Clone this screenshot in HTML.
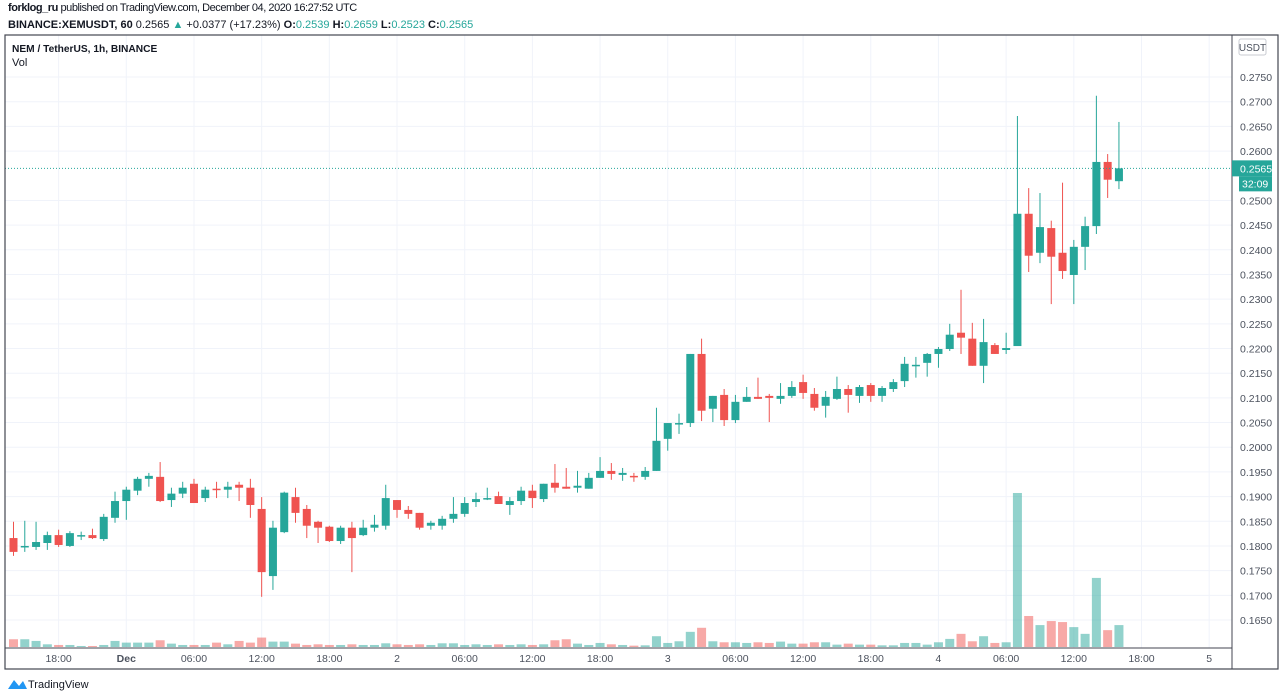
<!DOCTYPE html>
<html><head><meta charset="utf-8">
<style>
body{margin:0;background:#fff;width:1280px;height:699px;overflow:hidden;font-family:"Liberation Sans",sans-serif;}
.hdr{position:absolute;left:8px;font-size:11px;color:#131722;white-space:nowrap}
svg text{font-family:"Liberation Sans",sans-serif}
</style></head><body>
<div class="hdr" style="top:2px;letter-spacing:-0.45px"><b>forklog_ru</b> published on TradingView.com, December 04, 2020 16:27:52 UTC</div>
<div class="hdr" style="top:19px"><b>BINANCE:XEMUSDT, 60</b> 0.2565 <span style="color:#26a69a">▲</span> +0.0377 (+17.23%) <b>O:</b><span style="color:#26a69a">0.2539</span> <b>H:</b><span style="color:#26a69a">0.2659</span> <b>L:</b><span style="color:#26a69a">0.2523</span> <b>C:</b><span style="color:#26a69a">0.2565</span></div>
<svg id="chart" width="1280" height="699" style="position:absolute;left:0;top:0"></svg>
<script>
const opens=[0.1816,0.1798,0.1798,0.1806,0.1822,0.1800,0.1820,0.1822,0.1814,0.1857,0.1891,0.1912,0.1936,0.1940,0.1893,0.1906,0.1926,0.1897,0.1916,0.1914,0.1924,0.1918,0.1875,0.1739,0.1828,0.1899,0.1875,0.1849,0.1839,0.1810,0.1837,0.1822,0.1837,0.1841,0.1893,0.1873,0.1867,0.1841,0.1841,0.1855,0.1865,0.1889,0.1895,0.1901,0.1883,0.1891,0.1912,0.1895,0.1928,0.1920,0.1918,0.1916,0.1938,0.1952,0.1944,0.1942,0.1940,0.1952,0.2017,0.2047,0.2049,0.2189,0.2078,0.2106,0.2055,0.2092,0.2102,0.2104,0.2098,0.2104,0.2132,0.2108,0.2084,0.2098,0.2118,0.2104,0.2126,0.2104,0.2118,0.2134,0.2165,0.2171,0.2189,0.2199,0.2232,0.2220,0.2165,0.2207,0.2197,0.2205,0.2473,0.2394,0.2444,0.2394,0.2349,0.2406,0.2448,0.2578,0.2539];
const highs=[0.1849,0.1851,0.1849,0.1829,0.1833,0.1830,0.1829,0.1835,0.1865,0.1910,0.1920,0.1940,0.1948,0.1970,0.1918,0.1930,0.1936,0.1920,0.1930,0.1930,0.1930,0.1936,0.1899,0.1851,0.1910,0.1918,0.1883,0.1851,0.1841,0.1841,0.1849,0.1853,0.1863,0.1924,0.1893,0.1881,0.1867,0.1851,0.1861,0.1899,0.1899,0.1908,0.1918,0.1910,0.1899,0.1920,0.1924,0.1926,0.1966,0.1958,0.1952,0.1948,0.1980,0.1968,0.1958,0.1948,0.1960,0.2080,0.2049,0.2068,0.2189,0.2220,0.2104,0.2118,0.2106,0.2122,0.2141,0.2108,0.2130,0.2134,0.2147,0.2120,0.2114,0.2143,0.2126,0.2126,0.2130,0.2124,0.2138,0.2183,0.2183,0.2191,0.2203,0.2250,0.2319,0.2252,0.2260,0.2211,0.2232,0.2671,0.2525,0.2515,0.2459,0.2536,0.2420,0.2467,0.2712,0.2594,0.2659];
const lows=[0.1780,0.1788,0.1792,0.1792,0.1798,0.1798,0.1812,0.1814,0.1810,0.1847,0.1853,0.1903,0.1920,0.1889,0.1879,0.1897,0.1887,0.1889,0.1897,0.1897,0.1891,0.1857,0.1697,0.1711,0.1826,0.1847,0.1816,0.1806,0.1808,0.1804,0.1747,0.1820,0.1829,0.1833,0.1857,0.1855,0.1833,0.1833,0.1833,0.1847,0.1859,0.1879,0.1893,0.1885,0.1863,0.1883,0.1877,0.1889,0.1908,0.1916,0.1908,0.1916,0.1938,0.1934,0.1932,0.1930,0.1934,0.1952,0.1993,0.2027,0.2041,0.2053,0.2051,0.2043,0.2049,0.2092,0.2098,0.2051,0.2088,0.2100,0.2098,0.2074,0.2060,0.2096,0.2070,0.2090,0.2092,0.2092,0.2112,0.2122,0.2141,0.2143,0.2161,0.2195,0.2189,0.2165,0.2130,0.2189,0.2189,0.2205,0.2355,0.2373,0.2290,0.2341,0.2290,0.2359,0.2432,0.2505,0.2523];
const closes=[0.1788,0.1800,0.1808,0.1822,0.1802,0.1826,0.1822,0.1816,0.1859,0.1891,0.1914,0.1936,0.1942,0.1891,0.1906,0.1918,0.1887,0.1914,0.1914,0.1920,0.1918,0.1883,0.1747,0.1837,0.1908,0.1867,0.1841,0.1837,0.1810,0.1837,0.1816,0.1837,0.1843,0.1897,0.1873,0.1865,0.1837,0.1847,0.1855,0.1865,0.1887,0.1895,0.1897,0.1885,0.1891,0.1912,0.1897,0.1926,0.1918,0.1916,0.1922,0.1938,0.1952,0.1946,0.1948,0.1940,0.1952,0.2013,0.2049,0.2049,0.2189,0.2074,0.2104,0.2055,0.2092,0.2102,0.2098,0.2100,0.2104,0.2122,0.2110,0.2080,0.2102,0.2118,0.2106,0.2122,0.2104,0.2120,0.2132,0.2169,0.2167,0.2189,0.2199,0.2228,0.2222,0.2165,0.2213,0.2189,0.2201,0.2473,0.2388,0.2446,0.2386,0.2357,0.2406,0.2448,0.2578,0.2542,0.2565];
const volumes=[23,23,18,8,6,6,3,3,6,18,13,13,13,20,10,6,6,6,13,8,18,13,28,16,16,10,6,8,6,6,8,6,6,11,8,6,8,6,11,11,6,8,6,8,6,8,6,8,20,23,10,6,12,8,6,4,5,32,12,17,45,57,17,14,14,12,14,12,16,10,10,14,14,7,10,7,7,5,5,12,12,7,14,24,39,17,32,12,14,457,92,65,77,74,59,39,205,50,65];
const priceTicks=[0.165,0.17,0.175,0.18,0.185,0.19,0.195,0.2,0.205,0.21,0.215,0.22,0.225,0.23,0.235,0.24,0.245,0.25,0.26,0.265,0.27,0.275];
const timeLabels=["18:00","Dec","06:00","12:00","18:00","2","06:00","12:00","18:00","3","06:00","12:00","18:00","4","06:00","12:00","18:00","5"];
const timeLabelHours=[4,10,16,22,28,34,40,46,52,58,64,70,76,82,88,94,100,106];
const lastPrice=0.2565;

const NS="http://www.w3.org/2000/svg";
const svg=document.getElementById('chart');
function mk(tag,attrs,parent){const e=document.createElementNS(NS,tag);for(const k in attrs)e.setAttribute(k,attrs[k]);(parent||svg).appendChild(e);return e;}
const X0=13.5,DX=11.28;
function xOf(i){return X0+i*DX;}
function yOf(p){return 620-(p-0.165)/0.005*24.68;}
function vY(v){return 647-v*0.337;}
const L=5,R=1232,T=35,B=648;

priceTicks.forEach(p=>{const g=mk('line',{x1:L,x2:R,y1:yOf(p),y2:yOf(p),stroke:'#f0f3fa','stroke-width':1});

});
timeLabelHours.forEach(h=>{const g=mk('line',{x1:xOf(h),x2:xOf(h),y1:T,y2:B,stroke:'#f0f3fa','stroke-width':1});

});

volumes.forEach((v,i)=>{const up=closes[i]>=opens[i];
const r=mk('rect',{x:xOf(i)-4.5,y:vY(v),width:9,height:647-vY(v),fill:up?'rgba(38,166,154,0.5)':'rgba(239,83,80,0.5)'});

});

opens.forEach((o,i)=>{const c=closes[i],up=c>=o,col=up?'#26a69a':'#ef5350';
const g=mk('g',{});


mk('line',{x1:xOf(i),x2:xOf(i),y1:yOf(highs[i]),y2:yOf(lows[i]),stroke:col,'stroke-width':1},g);
const yt=yOf(Math.max(o,c)),yb=yOf(Math.min(o,c));
mk('rect',{x:xOf(i)-4,y:yt,width:8,height:Math.max(1.5,yb-yt),fill:col},g);});

const ly=yOf(lastPrice);
const pl=mk('line',{x1:L,x2:R,y1:ly,y2:ly,stroke:'#26a69a','stroke-width':1,'stroke-dasharray':'1 2'});



const fr=mk('rect',{x:L,y:T,width:1273,height:634,fill:'none',stroke:'#434651','stroke-width':1.2});


const ax=mk('line',{x1:R,x2:R,y1:T,y2:669,stroke:'#434651','stroke-width':1});


const tx=mk('line',{x1:L,x2:R,y1:B,y2:B,stroke:'#434651','stroke-width':1});



priceTicks.forEach(p=>{const t=mk('text',{x:1240,y:yOf(p)+4,'font-size':10.5,fill:'#4c525e'});t.textContent=p.toFixed(4);

});
timeLabels.forEach((s,k)=>{const t=mk('text',{x:xOf(timeLabelHours[k]),y:662,'font-size':10.5,fill:'#4c525e','text-anchor':'middle','font-weight':s==='Dec'?'bold':'normal'});t.textContent=s;

});

const lb=mk('rect',{x:1232,y:ly-8,width:40,height:16,fill:'#26a69a'});


const lt=mk('text',{x:1240,y:ly+4,'font-size':10.5,fill:'#fff'});lt.textContent=lastPrice.toFixed(4);


const cb=mk('rect',{x:1239,y:ly+8,width:33,height:15,fill:'#26a69a'});


const ct=mk('text',{x:1242,y:ly+19,'font-size':10.5,fill:'#fff'});ct.textContent='32:09';



const ub=mk('rect',{x:1239,y:39,width:27,height:16,rx:2,fill:'#fff',stroke:'#c8cbd2'});


const ut=mk('text',{x:1252.5,y:51,'font-size':10,fill:'#4c525e','text-anchor':'middle'});ut.textContent='USDT';



const t1=mk('text',{x:12,y:52,'font-size':10.2,'font-weight':'bold',fill:'#131722'});t1.textContent='NEM / TetherUS, 1h, BINANCE';


const t2=mk('text',{x:12,y:66,'font-size':11,fill:'#131722'});t2.textContent='Vol';



const lg=mk('path',{d:'M8 689 L14 680 L19 686 L23 681 L27 689 Z',fill:'#2196f3'});


const ft=mk('text',{x:28,y:688,'font-size':11,fill:'#131722'});ft.textContent='TradingView';


</script>
</body></html>
